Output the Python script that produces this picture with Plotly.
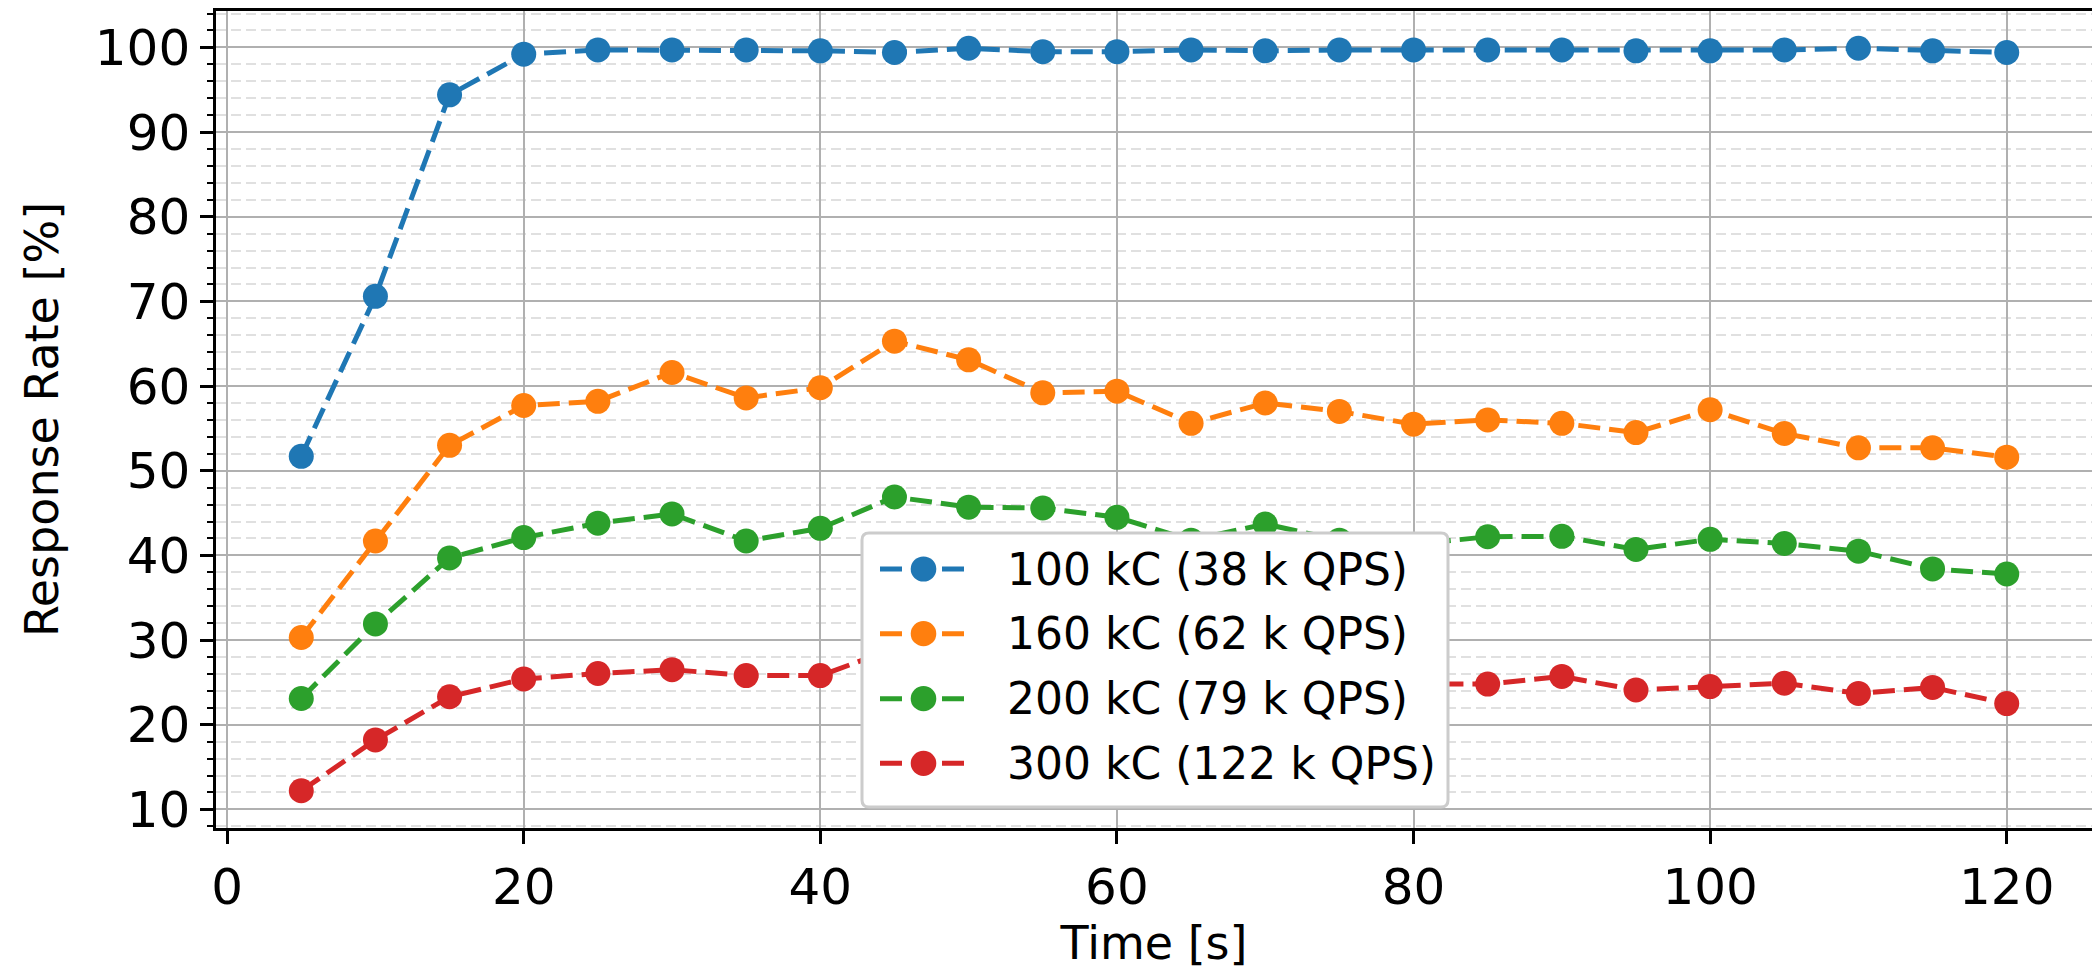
import plotly.graph_objects as go

time_s = [5, 10, 15, 20, 25, 30, 35, 40, 45, 50, 55, 60, 65, 70, 75, 80, 85, 90, 95, 100, 105, 110, 115, 120]

rate_100kc = [51.7, 70.6, 94.4, 99.2, 99.7, 99.7, 99.7, 99.6, 99.4, 99.9, 99.5, 99.5, 99.7, 99.6, 99.7,
              99.7, 99.7, 99.7, 99.6, 99.6, 99.7, 99.9, 99.6, 99.4]
rate_160kc = [30.3, 41.7, 53.0, 57.7, 58.2, 61.6, 58.6, 59.8, 65.3, 63.1, 59.2, 59.4, 55.6, 58.0, 57.0,
              55.5, 56.0, 55.6, 54.5, 57.2, 54.4, 52.7, 52.7, 51.6]
rate_200kc = [23.1, 31.9, 39.7, 42.1, 43.8, 44.9, 41.7, 43.2, 46.9, 45.7, 45.6, 44.5, 41.8, 43.7, 41.8,
              41.3, 42.2, 42.25, 40.7, 41.9, 41.4, 40.5, 38.4, 37.8]
rate_300kc = [12.2, 18.2, 23.3, 25.4, 26.05, 26.5, 25.8, 25.8, 29.0, 28.0, 27.5, 27.0, 25.5, 26.5, 25.5,
              24.8, 24.8, 25.7, 24.1, 24.5, 24.9, 23.7, 24.4, 22.5]

series_names = ["100 kC (38 k QPS)", "160 kC (62 k QPS)", "200 kC (79 k QPS)", "300 kC (122 k QPS)"]
series_values = [rate_100kc, rate_160kc, rate_200kc, rate_300kc]
series_colors = ["#1f77b4", "#ff7f0e", "#2ca02c", "#d62728"]

y_major_ticks = [10, 20, 30, 40, 50, 60, 70, 80, 90, 100]
x_major_ticks = [0, 20, 40, 60, 80, 100, 120]

FONT = "DejaVu Sans"
DASH = "22px,9px"

W, H = 2092, 970
ml, mr, mt, mb = 216, 0, 11, 142
PW, PH = W - ml - mr, H - mt - mb


def px(u):
    return u / PW


def py(v):
    return v / PH


fig = go.Figure()
for name, vals, col in zip(series_names, series_values, series_colors):
    fig.add_trace(go.Scatter(
        x=time_s, y=vals, name=name, mode="lines+markers",
        line=dict(color=col, width=5, dash=DASH),
        marker=dict(color=col, size=25, symbol="circle"),
        showlegend=False,
    ))

# ---- custom legend (matplotlib style) ----
box_u0, box_u1, box_v0, box_v1 = 646, 1232, 21, 295
r = 7
x0, x1, y0, y1 = px(box_u0), px(box_u1), py(box_v0), py(box_v1)
rx, ry = px(r), py(r)
path = (f"M {x0+rx},{y0} L {x1-rx},{y0} Q {x1},{y0} {x1},{y0+ry} "
        f"L {x1},{y1-ry} Q {x1},{y1} {x1-rx},{y1} L {x0+rx},{y1} "
        f"Q {x0},{y1} {x0},{y1-ry} L {x0},{y0+ry} Q {x0},{y0} {x0+rx},{y0} Z")
shapes = [dict(type="path", path=path, xref="paper", yref="paper", layer="above",
               fillcolor="white", line=dict(color="#cccccc", width=3))]
annotations = []
row_v = [259, 194.3, 129.3, 64.7]
line_u0, line_u1, mark_u, text_u = 664, 752, 707.5, 789
for name, col, v in zip(series_names, series_colors, row_v):
    shapes.append(dict(type="line", xref="paper", yref="paper", layer="above",
                       x0=px(line_u0), x1=px(line_u1), y0=py(v), y1=py(v),
                       line=dict(color=col, width=5, dash=DASH)))
    shapes.append(dict(type="circle", xref="paper", yref="paper", layer="above",
                       xsizemode="pixel", ysizemode="pixel",
                       xanchor=px(mark_u), yanchor=py(v),
                       x0=-12.8, x1=12.8, y0=-12.6, y1=12.6,
                       fillcolor=col, line=dict(width=0)))
    annotations.append(dict(text=name, xref="paper", yref="paper", x=px(text_u), y=py(v),
                            xanchor="left", yanchor="middle", showarrow=False,
                            font=dict(family=FONT, size=44, color="black")))

fig.update_layout(
    width=W, height=H, autosize=False,
    margin=dict(l=ml, r=mr, t=mt, b=mb, pad=0),
    paper_bgcolor="white", plot_bgcolor="white",
    font=dict(family=FONT, color="black", size=46),
    showlegend=False,
    shapes=shapes, annotations=annotations,
    xaxis=dict(
        range=[-0.75, 125.75], tickvals=x_major_ticks,
        ticks="outside", ticklen=13, tickwidth=2.5, tickcolor="black",
        showline=True, linecolor="black", linewidth=2.5, mirror=True,
        showgrid=True, gridcolor="#b0b0b0", gridwidth=2,
        zeroline=False,
        tickfont=dict(family=FONT, size=50, color="black"),
        title=dict(text="Time [s]", font=dict(family=FONT, size=46, color="black"), standoff=4),
    ),
    yaxis=dict(
        range=[7.8, 104.3], tickvals=y_major_ticks,
        ticks="outside", ticklen=13, tickwidth=2.5, tickcolor="black",
        showline=True, linecolor="black", linewidth=2.5,
        showgrid=True, gridcolor="#b0b0b0", gridwidth=2,
        zeroline=False,
        tickfont=dict(family=FONT, size=50, color="black"),
        title=dict(text="Response Rate [%]", font=dict(family=FONT, size=46, color="black"), standoff=22),
        minor=dict(dtick=2, tick0=0, ticks="outside", ticklen=6, tickwidth=2, tickcolor="black",
                   showgrid=True, gridcolor="#e0e0e0", gridwidth=2, griddash="10px,5px"),
    ),
)

fig.write_html("out.html",
               config=dict(displayModeBar=False),
               post_script="document.body.style.margin='0';document.body.style.overflow='hidden';")
